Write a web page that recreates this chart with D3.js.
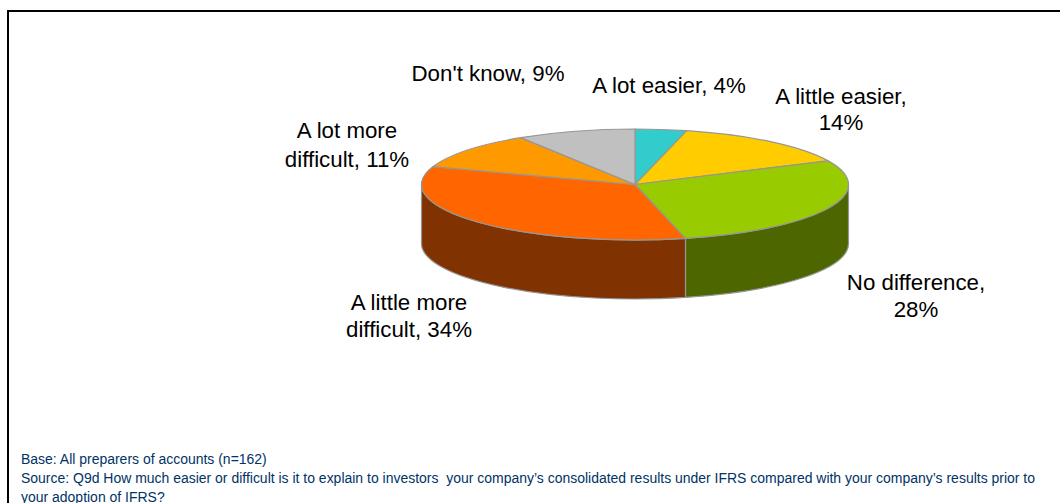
<!DOCTYPE html>
<html><head><meta charset="utf-8">
<script src="https://cdn.jsdelivr.net/npm/d3@7/dist/d3.min.js"></script>
<style>html,body{margin:0;padding:0;background:#fff;overflow:hidden}svg{display:block}text{white-space:pre}</style>
</head><body><svg id="c" width="1060" height="503"></svg>
<script>
const categories = ["A lot easier","A little easier","No difference","A little more difficult","A lot more difficult","Don't know"];
const values = [3.9,14.1,28.2,34,10.8,9];
const topColors = ["#33CCCC","#FFCC00","#99CC00","#FF6600","#FF9900","#C0C0C0"];
const sideColors = ["#1A6666","#806600","#4D6600","#803300","#804D00","#606060"];
const labelLines = [["A lot easier, 4%"],["A little easier,","14%"],["No difference,","28%"],["A little more","difficult, 34%"],["A lot more","difficult, 11%"],["Don't know, 9%"]];
const footnotes = ["Base: All preparers of accounts (n=162)",
"Source: Q9d How much easier or difficult is it to explain to investors  your company\u2019s consolidated results under IFRS compared with your company\u2019s results prior to",
"your adoption of IFRS?"];

const labelPos = [[669,93,0],[841,104,26],[916,290,27],[409,310,27],[347,138,29],[488,81,0]];
const svg = d3.select("#c");
const cx=635, cy=184.5, rx=213.5, ry=55.5, depth=59;
const line="#969696";
svg.append("path").attr("d","M1060,11H8V503").attr("fill","none").attr("stroke","#000").attr("stroke-width",2);

const pie=d3.pie().sort(null).value(d=>d).startAngle(0).endAngle(2*Math.PI);
const arcs=pie(values);
const pt=(a,dy=0)=>[cx+rx*Math.sin(a),cy-ry*Math.cos(a)+dy];

// side walls: only the front half (angles between PI/2 and 3PI/2) is visible
const lo=Math.PI/2, hi=3*Math.PI/2;
const walls=arcs.map((d,i)=>({i,a0:Math.max(d.startAngle,lo),a1:Math.min(d.endAngle,hi)})).filter(d=>d.a1>d.a0);
svg.append("g").selectAll("path").data(walls).join("path")
 .attr("d",d=>{
   const [x0,y0]=pt(d.a0),[x1,y1]=pt(d.a1),[x2,y2]=pt(d.a1,depth),[x3,y3]=pt(d.a0,depth);
   return `M${x0},${y0}A${rx},${ry} 0 0 1 ${x1},${y1}L${x2},${y2}A${rx},${ry} 0 0 0 ${x3},${y3}Z`;
 })
 .attr("fill",d=>sideColors[d.i]).attr("stroke",line).attr("stroke-width",1.2).attr("stroke-linejoin","round");

const arc=d3.arc().innerRadius(0).outerRadius(rx);
svg.append("g").attr("transform",`translate(${cx},${cy}) scale(1,${ry/rx})`)
 .selectAll("path").data(arcs).join("path")
 .attr("d",arc).attr("fill",(d,i)=>topColors[i]).attr("stroke",line).attr("stroke-width",1.2)
 .attr("vector-effect","non-scaling-stroke").attr("stroke-linejoin","round");

const lab=svg.append("g").attr("font-family","'Liberation Sans',Arial,sans-serif").attr("font-size",22.3).attr("fill","#000").attr("text-anchor","middle");
labelLines.forEach((ls,i)=>{
  ls.forEach((s,j)=>lab.append("text").attr("x",labelPos[i][0]).attr("y",labelPos[i][1]+j*labelPos[i][2]).text(s));
});
svg.append("g").attr("font-family","'Liberation Sans',Arial,sans-serif").attr("font-size",13.97).attr("fill","#003366")
 .selectAll("text").data(footnotes).join("text").attr("x",21).attr("y",(d,i)=>464+i*18.75).text(d=>d);
</script></body></html>
